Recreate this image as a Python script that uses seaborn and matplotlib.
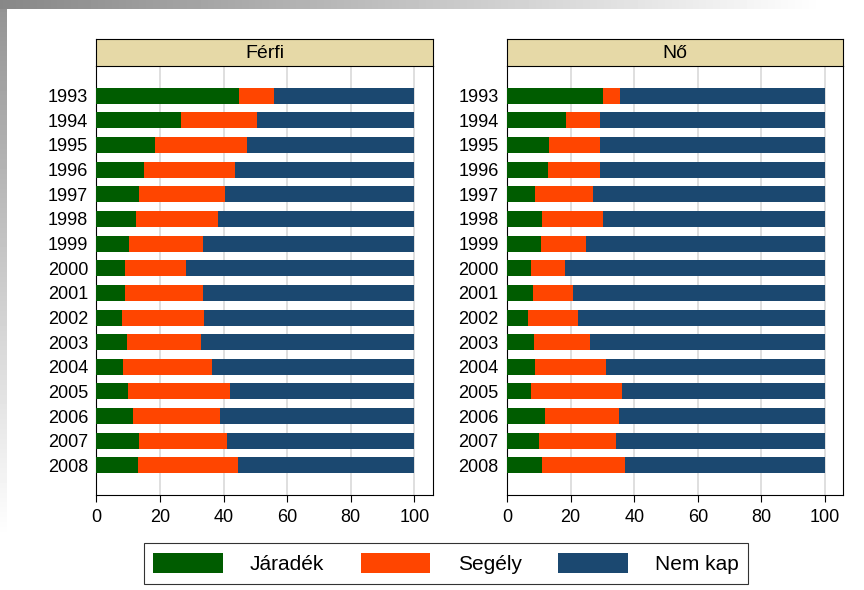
import numpy as np
import pandas as pd
import matplotlib
matplotlib.use("Agg")
import matplotlib.pyplot as plt
from matplotlib.patches import Patch
import seaborn as sns

sns.set_theme(style="white")
plt.rcParams['font.family'] = ['Liberation Sans', 'DejaVu Sans']
plt.rcParams['text.color'] = 'black'
plt.rcParams['xtick.labelcolor'] = 'black'
plt.rcParams['ytick.labelcolor'] = 'black'

# --- data (percent shares) ---
years = [str(y) for y in range(1993, 2009)]
categories = ["Járadék", "Segély", "Nem kap"]
colors = ["#005c00", "#ff4500", "#1b4870"]

ferfi_jaradek = [44.9, 26.6, 18.6, 15.0, 13.3, 12.5, 10.4, 9.0, 9.0, 8.2, 9.6, 8.3, 10.1, 11.5, 13.3, 13.0]
ferfi_segely = [11.1, 24.0, 28.8, 28.5, 27.1, 25.8, 23.1, 19.1, 24.5, 25.5, 23.4, 28.1, 31.9, 27.5, 27.7, 31.6]
ferfi_nemkap = [44.0, 49.4, 52.6, 56.5, 59.6, 61.7, 66.5, 71.9, 66.5, 66.3, 67.0, 63.6, 58.0, 61.0, 59.0, 55.4]

no_jaradek = [30.2, 18.4, 13.3, 13.0, 8.9, 10.9, 10.6, 7.7, 8.2, 6.6, 8.6, 8.9, 7.7, 12.0, 10.0, 11.1]
no_segely = [5.2, 10.7, 15.8, 16.1, 18.0, 19.2, 14.1, 10.6, 12.4, 15.8, 17.5, 22.3, 28.5, 23.3, 24.4, 26.0]
no_nemkap = [64.6, 70.9, 70.9, 70.9, 73.1, 69.9, 75.3, 81.7, 79.4, 77.6, 73.9, 68.8, 63.8, 64.7, 65.6, 62.9]

panels = {
    "Férfi": pd.DataFrame({"year": years, "Járadék": ferfi_jaradek,
                           "Segély": ferfi_segely, "Nem kap": ferfi_nemkap}),
    "Nő": pd.DataFrame({"year": years, "Járadék": no_jaradek,
                        "Segély": no_segely, "Nem kap": no_nemkap}),
}

fig = plt.figure(figsize=(8.64, 5.90), dpi=100)

# slide-like gray gradient on top and left edge
bg = fig.add_axes([0, 0, 1, 1], zorder=-10)
img = np.ones((590, 864))
img[:9, :] = np.clip(0.53 + 0.47 * np.linspace(0, 1.05, 864), 0, 1)[None, :]
img[9:, :7] = np.clip(0.58 + 0.42 * np.linspace(0, 1.1, 581), 0, 1)[:, None]
bg.imshow(img, cmap="gray", vmin=0, vmax=1, aspect="auto", interpolation="bilinear")
bg.axis("off")

lefts = [0.1115, 0.5868]
for (name, df), left in zip(panels.items(), lefts):
    ax = fig.add_axes([left, 0.161, 0.3894, 0.727])
    df = df.copy()
    df["c1"] = df["Járadék"]
    df["c2"] = df["Járadék"] + df["Segély"]
    df["c3"] = df["c2"] + df["Nem kap"]
    for col, color in zip(["c3", "c2", "c1"], colors[::-1]):
        sns.barplot(data=df, x=col, y="year", order=years, color=color,
                    width=0.65, saturation=1, ax=ax, zorder=3, linewidth=0)
    ax.set_xlim(0, 105.8)
    ax.set_ylim(16.2, -1.2)
    ax.set_xticks([0, 20, 40, 60, 80, 100])
    ax.set_xlabel("")
    ax.set_ylabel("")
    ax.grid(axis="x", color="#dcdcdc", linewidth=1.3, zorder=0)
    ax.grid(axis="y", visible=False)
    for s in ax.spines.values():
        s.set_color("black")
        s.set_linewidth(0.8)
    ax.spines["top"].set_visible(False)
    ax.tick_params(axis="x", length=5, width=0.8, color="black", direction="out",
                   labelsize=13, pad=5, bottom=True)
    ax.tick_params(axis="y", length=0, labelsize=13, pad=6)

    # facet strip
    strip = fig.add_axes([left, 0.888, 0.3894, 0.0458])
    strip.set_facecolor("#e6d9a7")
    strip.set_xticks([])
    strip.set_yticks([])
    for s in strip.spines.values():
        s.set_color("black")
        s.set_linewidth(0.8)
    strip.text(0.5, 0.45, name, ha="center", va="center", fontsize=14,
               transform=strip.transAxes)

handles = [Patch(facecolor=c, edgecolor="none", label=l) for c, l in zip(colors, categories)]
leg = fig.legend(handles=handles, loc="center", bbox_to_anchor=(0.516, 0.045), ncol=3,
                 fontsize=15, frameon=True, fancybox=False, edgecolor="black",
                 handlelength=3.35, handleheight=1.15, handletextpad=1.3,
                 columnspacing=1.75, borderpad=0.45, borderaxespad=0)
leg.get_frame().set_linewidth(0.8)

fig.savefig("out.png", dpi=100)
